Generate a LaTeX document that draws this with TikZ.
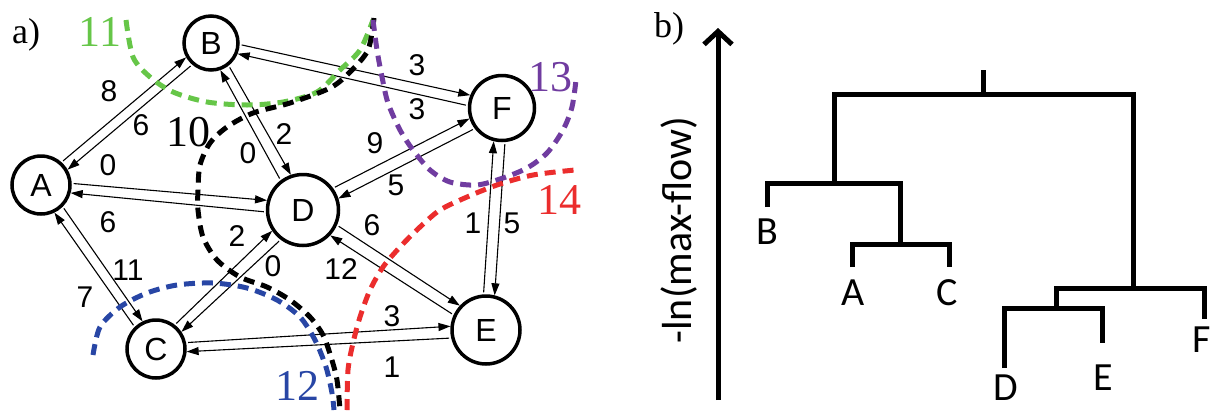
\documentclass[tikz,border=0pt]{standalone}
\usepackage{fontspec}
\setmainfont{Liberation Serif}
\newfontfamily\graphfont{Liberation Sans}
\newfontfamily\treefont{Carlito}
\usepackage{tikz}
\usetikzlibrary{arrows.meta,calc}

\definecolor{cutgreen}{RGB}{102,198,72}
\definecolor{cutblue}{RGB}{40,70,165}
\definecolor{cutpurple}{RGB}{112,60,160}
\definecolor{cutred}{RGB}{235,45,45}

% one directed edge, kept on the left of its own direction
\newcommand\flowedge[2]{%
  \draw[flow] let \p1=($(#2)-(#1)$), \n1={atan2(\y1,\x1)+9}, \n2={atan2(\y1,\x1)+171}
    in (#1.\n1) -- (#2.\n2);
}

\begin{document}
\begin{tikzpicture}[x=1pt, y=-1pt,
    vert/.style={circle, draw, line width=3.5pt, inner sep=0pt, font=\graphfont\fontsize{32}{36}\selectfont},
    flow/.style={line width=1.1pt, -{Triangle[length=12pt,width=8pt]}, shorten <=2pt},
    elab/.style={inner sep=0pt, font=\graphfont\fontsize{30}{34}\selectfont},
    cut/.style={line width=5pt, dash pattern=on 11pt off 7pt},
    cutlab/.style={inner sep=0pt, font=\fontsize{44}{48}\selectfont},
    tree/.style={line width=5pt},
    leaf/.style={inner sep=0pt, font=\treefont\fontsize{40}{44}\selectfont}]
  \useasboundingbox (0,0) rectangle (1214,410);

  % panel a: network
  \node[cutlab, font=\fontsize{36}{40}\selectfont] (pa) at (26,35) {a)};
  \node[vert, minimum size=58pt] (A) at (41,185) {A};
  \node[vert, minimum size=54pt] (B) at (211,43) {B};
  \node[vert, minimum size=58pt] (C) at (156,349) {C};
  \node[vert, minimum size=71pt] (D) at (303,210) {D};
  \node[vert, minimum size=68pt] (E) at (486,330) {E};
  \node[vert, minimum size=65pt] (F) at (502,108) {F};

  \foreach \s/\t in {A/B,B/A,A/D,D/A,A/C,C/A,B/D,D/B,B/F,F/B,
                     D/F,F/D,C/D,D/C,D/E,E/D,E/F,F/E,C/E,E/C}
    \flowedge{\s}{\t};

  % capacities
  \foreach \x/\y/\t [count=\i] in {109/91/8, 141/125/6, 108/165/0, 108/222/6,
      85/297/7, 128/270/11, 248/153/0, 284/134/2, 417/65/3, 417/109/3,
      375/143/9, 396/185/5, 237/236/2, 273/266/0, 372/225/6, 341/269/12,
      473/223/1, 512/223/5, 392/316/3, 392/367/1}
    \node[elab] (cap\i) at (\x,\y) {\t};

  % cuts
  \draw[cut, cutgreen] plot[smooth] coordinates {(126,20) (133,57) (150,77) (173,92)
    (207,102) (247,105) (283,102) (317,92) (340,70) (360,50) (373,20)};
  \draw[cut, black] plot[smooth] coordinates {(374,18) (368,50) (350,72) (330,88)
    (290,103) (253,113) (227,127) (210,143) (200,165) (198,190) (198,210) (203,237)
    (217,260) (240,277) (267,287) (290,300) (310,317) (323,335) (331,357) (337,380) (340,410)};
  \draw[cut, cutblue] plot[smooth] coordinates {(93,355) (100,327) (120,307) (147,293)
    (177,285) (213,283) (247,288) (277,300) (300,317) (315,340) (326,367) (332,393) (334,410)};
  \draw[cut, cutpurple] plot[smooth] coordinates {(373,20) (377,50) (382,77) (388,103)
    (400,130) (413,150) (430,170) (450,182) (477,185) (503,178) (527,168) (547,153)
    (563,130) (572,107) (576,80)};
  \draw[cut, cutred] plot[smooth] coordinates {(347,410) (348,370) (353,343) (360,317)
    (370,290) (383,267) (400,247) (420,227) (440,210) (467,197) (497,185) (533,175) (575,170)};
  \node[cutlab, cutgreen] (c11) at (100,32) {11};
  \node[cutlab, black] (c10) at (188,132) {10};
  \node[cutlab, cutblue] (c12) at (297,386) {12};
  \node[cutlab, cutpurple] (c13) at (550,77) {13};
  \node[cutlab, cutred] (c14) at (559,200) {14};

  % panel b: dendrogram
  \node[cutlab, font=\fontsize{36}{40}\selectfont] (pb) at (669,29) {b)};
  \draw[line width=5pt, -{Straight Barb[length=13pt,width=28pt]}] (718,400) -- (718,28);
  \node[leaf, font=\treefont\fontsize{42}{46}\selectfont, rotate=90] (ax) at (679,230) {-ln(max-flow)};

  \draw[tree] (983,70) -- (983,94);
  \draw[tree] (834,183) |- (1133,94) -- (1133,288);
  \draw[tree] (767,207) |- (900,183) -- (900,244);
  \draw[tree] (852,267) |- (949,244) -- (949,267);
  \draw[tree] (1056,308) |- (1204,288) -- (1204,319);
  \draw[tree] (1004,368) |- (1102,308) -- (1102,343);
  \node[leaf] (dB) at (767,232) {B};
  \node[leaf] (dA) at (853,293) {A};
  \node[leaf] (dC) at (947,293) {C};
  \node[leaf] (dD) at (1006,388) {D};
  \node[leaf] (dE) at (1103,378) {E};
  \node[leaf] (dF) at (1202,340) {F};
\end{tikzpicture}
\end{document}
